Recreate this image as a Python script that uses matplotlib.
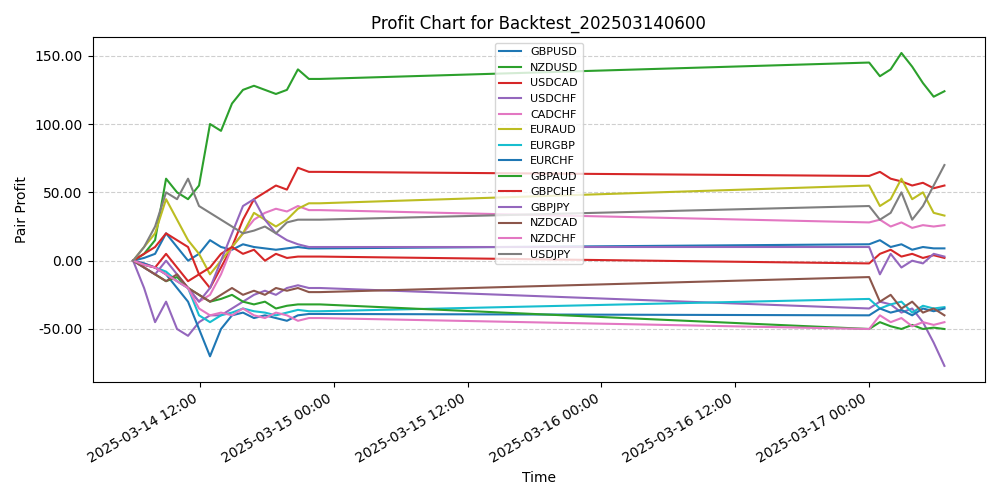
import numpy as np
import pandas as pd
import matplotlib
matplotlib.use("Agg")
import matplotlib.pyplot as plt
import matplotlib.dates as mdates

# trading hours: Friday session, then Monday session after weekend gap
times_fri = pd.date_range("2025-03-14 06:00", "2025-03-14 22:45", periods=18)
times_mon = pd.date_range("2025-03-17 00:00", "2025-03-17 06:45", periods=8)
times = times_fri.append(times_mon)

pairs = ["GBPUSD", "NZDUSD", "USDCAD", "USDCHF", "CADCHF", "EURAUD", "EURGBP",
         "EURCHF", "GBPAUD", "GBPCHF", "GBPJPY", "NZDCAD", "NZDCHF", "USDJPY"]
colors = ["#1f77b4", "#2ca02c", "#d62728", "#9467bd", "#e377c2", "#bcbd22", "#17becf",
          "#1f77b4", "#2ca02c", "#d62728", "#9467bd", "#8c564b", "#e377c2", "#7f7f7f"]

gbpusd = [0, 2, 5, 20, 10, 0, 5, 15, 10, 8, 12, 10, 9, 8, 9, 10, 9, 9,
          12, 15, 10, 12, 8, 10, 9, 9]
nzdusd = [0, 5, 15, 60, 50, 45, 55, 100, 95, 115, 125, 128, 125, 122, 125, 140, 133, 133,
          145, 135, 140, 152, 142, 130, 120, 124]
usdcad = [0, 5, 10, 20, 15, 10, -10, -20, -5, 10, 30, 45, 50, 55, 52, 68, 65, 65,
          62, 65, 60, 58, 55, 57, 53, 55]
usdchf = [0, -20, -45, -30, -50, -55, -45, -40, -40, -35, -30, -25, -22, -25, -20, -18, -20, -20,
          -35, -30, -32, -38, -35, -45, -60, -77]
cadchf = [0, -2, -5, -10, -15, -20, -30, -25, -10, 10, 20, 30, 35, 38, 36, 40, 37, 37,
          28, 30, 25, 28, 24, 26, 25, 26]
euraud = [0, 10, 20, 45, 30, 15, 5, -10, 0, 10, 20, 35, 30, 25, 30, 38, 42, 42,
          55, 40, 45, 60, 45, 50, 35, 33]
eurgbp = [0, -3, -5, -8, -15, -20, -40, -45, -40, -38, -35, -37, -38, -40, -38, -36, -37, -37,
          -28, -35, -32, -30, -38, -33, -35, -34]
eurchf = [0, -2, -5, -10, -20, -30, -50, -70, -50, -40, -38, -42, -40, -42, -44, -40, -39, -39,
          -40, -35, -38, -36, -40, -35, -37, -35]
gbpaud = [0, -5, -10, -15, -12, -20, -25, -30, -28, -25, -30, -32, -30, -35, -33, -32, -32, -32,
          -50, -45, -48, -50, -47, -50, -49, -50]
gbpchf = [0, -3, -5, 5, -5, -15, -10, -5, 5, 10, 5, 8, 0, 5, 2, 3, 3, 3,
          -2, 5, 8, 3, 5, 2, 4, 2]
gbpjpy = [0, -5, -10, 0, -10, -20, -30, -20, 0, 20, 40, 45, 30, 20, 15, 12, 10, 10,
          10, -10, 5, -5, 0, -2, 5, 3]
nzdcad = [0, -5, -10, -15, -10, -20, -25, -30, -25, -20, -25, -22, -25, -20, -22, -20, -23, -23,
          -12, -30, -25, -35, -30, -38, -35, -40]
nzdchf = [0, -3, -5, -10, -15, -20, -35, -40, -38, -40, -35, -40, -42, -38, -40, -44, -42, -42,
          -50, -40, -45, -42, -48, -45, -47, -45]
usdjpy = [0, 10, 25, 50, 45, 60, 40, 35, 30, 25, 20, 22, 25, 20, 28, 30, 30, 30,
          40, 30, 35, 50, 30, 40, 55, 70]

series = [gbpusd, nzdusd, usdcad, usdchf, cadchf, euraud, eurgbp,
          eurchf, gbpaud, gbpchf, gbpjpy, nzdcad, nzdchf, usdjpy]

fig, ax = plt.subplots(figsize=(10, 5), dpi=100)
for name, vals, c in zip(pairs, series, colors):
    ax.plot(times, vals, color=c, linewidth=1.5, label=name)

ax.set_title("Profit Chart for Backtest_202503140600")
ax.set_xlabel("Time")
ax.set_ylabel("Pair Profit")
ax.yaxis.set_major_formatter(matplotlib.ticker.FormatStrFormatter("%.2f"))
ax.xaxis.set_major_locator(mdates.HourLocator(byhour=[0, 12]))
ax.xaxis.set_major_formatter(mdates.DateFormatter("%Y-%m-%d %H:%M"))
ax.grid(axis="y", linestyle="--", alpha=0.6)
ax.legend(loc="upper center", fontsize=8)
fig.autofmt_xdate()
fig.tight_layout()
fig.savefig("out.png")
